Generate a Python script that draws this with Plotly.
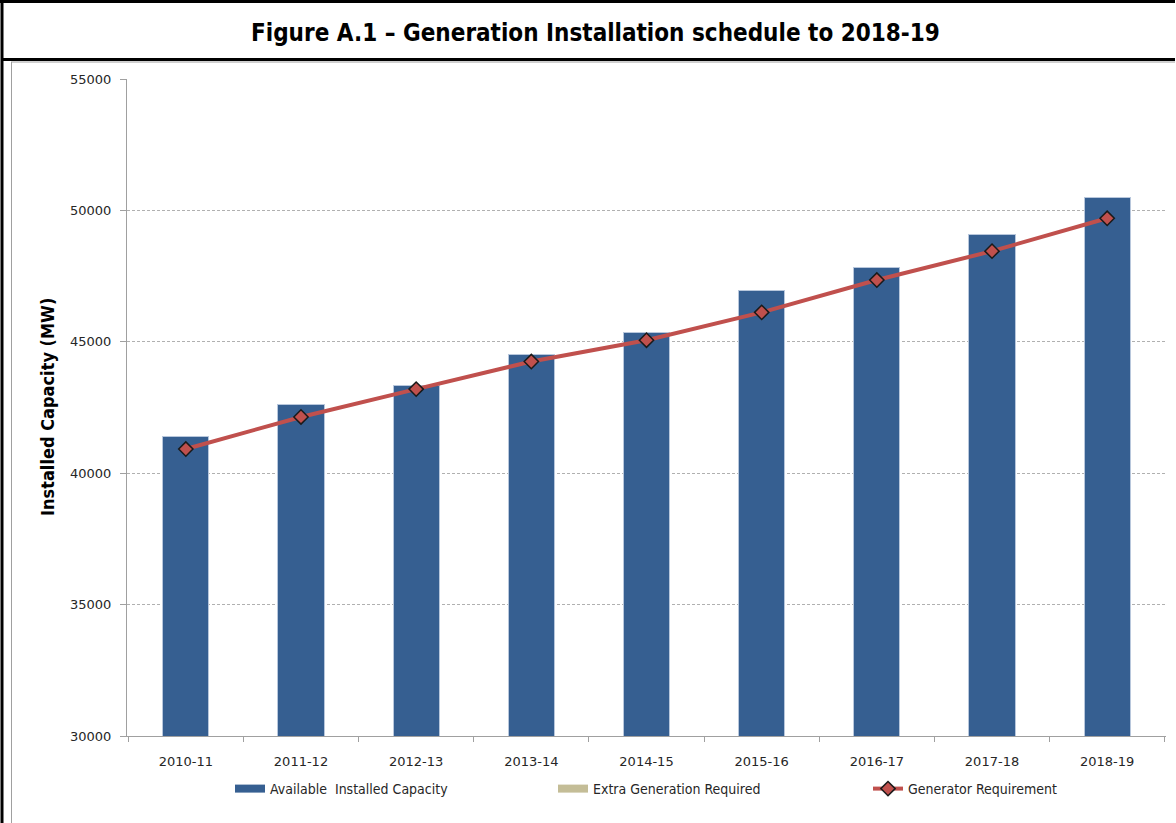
import plotly.graph_objects as go

categories = ["2010-11", "2011-12", "2012-13", "2013-14", "2014-15",
              "2015-16", "2016-17", "2017-18", "2018-19"]
available_capacity = [41400, 42600, 43350, 44530, 45370, 46960, 47830, 49090, 50500]
extra_generation = [0, 0, 0, 0, 0, 0, 0, 0, 0]
generator_requirement = [40920, 42140, 43200, 44250, 45060, 46120, 47350, 48450, 49700]
y_ticks = [30000, 35000, 40000, 45000, 50000, 55000]

W, H = 1176, 823
L, R, T, B = 127, 10, 79, 87
PW, PH = W - L - R, H - T - B


def px(x):
    return (x - L) / PW


def py(y):
    return (H - B - y) / PH


BLUE = "#365f91"
TAN = "#c4bd97"
RED = "#c0504d"
NARROW = "Liberation Sans Narrow, DejaVu Sans Condensed, Arial Narrow, sans-serif"

fig = go.Figure()
fig.add_trace(go.Bar(x=categories, y=available_capacity, name="Available  Installed Capacity",
                     marker=dict(color=BLUE, line=dict(color="#b8c7dc", width=1)),
                     width=0.4, showlegend=False, legendgroup="a"))
fig.add_trace(go.Bar(x=categories, y=extra_generation, name="Extra Generation Required",
                     marker=dict(color=TAN, line=dict(width=0)),
                     width=0.4, showlegend=False, legendgroup="b"))
fig.add_trace(go.Scatter(x=categories, y=generator_requirement, name="Generator Requirement",
                         mode="lines+markers",
                         line=dict(color=RED, width=4),
                         marker=dict(symbol="diamond", size=11, color=RED,
                                     line=dict(color="#1a1a1a", width=1.5)),
                         legendgroup="c", legend="legend3"))
# legend-only swatches for the bar series (wide rectangles as in reference)
fig.add_trace(go.Scatter(x=[None], y=[None], mode="lines", name="Available  Installed Capacity",
                         line=dict(color=BLUE, width=8), legendgroup="a", legend="legend"))
fig.add_trace(go.Scatter(x=[None], y=[None], mode="lines", name="Extra Generation Required",
                         line=dict(color=TAN, width=8), legendgroup="b", legend="legend2"))

shapes = [
    dict(type="line", xref="paper", yref="paper", x0=px(2), x1=px(2), y0=py(0), y1=py(H),
         line=dict(color="black", width=3)),
    dict(type="line", xref="paper", yref="paper", x0=px(0), x1=px(W - 1), y0=py(1.5), y1=py(1.5),
         line=dict(color="black", width=3)),
    dict(type="line", xref="paper", yref="paper", x0=px(2), x1=px(W - 1), y0=py(59.5), y1=py(59.5),
         line=dict(color="black", width=3)),
    dict(type="line", xref="paper", yref="paper", x0=px(11), x1=px(W - 1), y0=py(62), y1=py(62),
         line=dict(color="#a0a0a0", width=1)),
    dict(type="line", xref="paper", yref="paper", x0=px(11.5), x1=px(11.5), y0=py(62), y1=py(H),
         line=dict(color="#a0a0a0", width=1)),
]

annotations = [
    dict(text="<b>Figure A.1 – Generation Installation schedule to 2018-19</b>",
         xref="paper", yref="paper", x=px(595), y=py(33), xanchor="center", yanchor="middle",
         showarrow=False, font=dict(family=NARROW, size=24, color="black")),
    dict(text="<b>Installed Capacity (MW)</b>", textangle=-90,
         xref="paper", yref="paper", x=px(47), y=py(407), xanchor="center", yanchor="middle",
         showarrow=False, font=dict(family=NARROW, size=18, color="black")),
]

leg_common = dict(orientation="h", yanchor="middle", xanchor="left",
                  font=dict(family=NARROW, size=14, color="#262626"),
                  bgcolor="rgba(0,0,0,0)")

fig.update_layout(
    width=W, height=H,
    margin=dict(l=L, r=R, t=T, b=B, autoexpand=False),
    paper_bgcolor="white", plot_bgcolor="white",
    barmode="stack",
    shapes=shapes,
    annotations=annotations,
    showlegend=True,
    legend=dict(x=px(230), y=py(789), **leg_common),
    legend2=dict(x=px(553), y=py(789), **leg_common),
    legend3=dict(x=px(868), y=py(789), **leg_common),
    font=dict(family="DejaVu Sans", size=13, color="#262626"),
)

fig.update_xaxes(type="category", showline=True, linecolor="#a0a0a0", linewidth=1,
                 ticks="outside", tickson="boundaries", ticklen=5, tickcolor="#a0a0a0",
                 showgrid=False, tickfont=dict(family="DejaVu Sans", size=13, color="#262626"),
                 ticklabelstandoff=13)
fig.update_yaxes(range=[30000, 55000], tickvals=y_ticks, tickformat="d",
                 showline=True, linecolor="#a0a0a0", linewidth=1,
                 ticks="outside", ticklen=6, tickcolor="#a0a0a0",
                 showgrid=True, gridcolor="#b0b0b0", griddash="3px,2px", gridwidth=1,
                 zeroline=False,
                 tickfont=dict(family="DejaVu Sans", size=13, color="#262626"),
                 ticklabelstandoff=6)

fig.write_html("out.html", config={"displayModeBar": False},
               post_script="document.body.style.margin='0';document.body.style.overflow='hidden';")
